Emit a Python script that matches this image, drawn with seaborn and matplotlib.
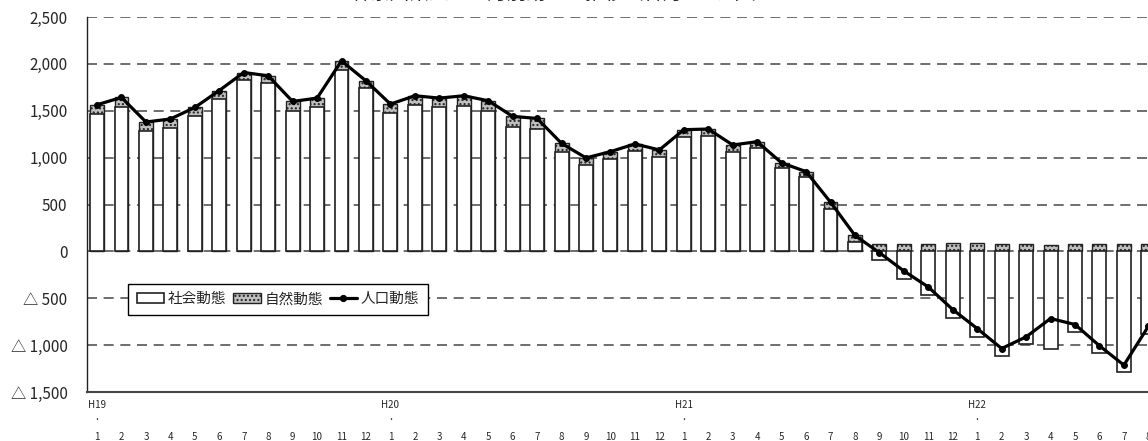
import numpy as np
import pandas as pd
import matplotlib
matplotlib.use("Agg")
import matplotlib.pyplot as plt
import seaborn as sns
from matplotlib.patches import Patch
from matplotlib.lines import Line2D
from matplotlib.transforms import blended_transform_factory

# monthly data, H19/1 .. H22/8
years = ["H19", "H20", "H21", "H22"]
months = list(range(1, 13)) * 3 + list(range(1, 9))

social = [1468, 1543, 1284, 1312, 1440, 1625, 1827, 1791, 1500, 1543, 1936, 1742,
          1479, 1564, 1535, 1553, 1500, 1330, 1305, 1064, 918, 982, 1071, 1011,
          1216, 1234, 1057, 1099, 891, 791, 454, 99, -88, -298, -461, -706,
          -912, -1117, -993, -1043, -858, -1082, -1284, -880]
natural = [96, 99, 96, 100, 95, 91, 81, 82, 99, 92, 96, 77,
           92, 96, 100, 107, 107, 110, 113, 88, 79, 82, 75, 71,
           82, 71, 78, 71, 53, 60, 71, 71, 80, 82, 82, 85,
           85, 82, 80, 64, 80, 80, 75, 80]
total = [1564, 1642, 1380, 1412, 1535, 1716, 1908, 1873, 1599, 1635, 2032, 1819,
         1571, 1660, 1635, 1660, 1607, 1440, 1418, 1152, 997, 1064, 1146, 1082,
         1298, 1305, 1135, 1170, 944, 851, 525, 170, -14, -209, -380, -621,
         -823, -1036, -912, -716, -780, -1007, -1213, -800]

yticks = [-1500, -1000, -500, 0, 500, 1000, 1500, 2000, 2500]
ytick_labels = ["△ 1,500", "△ 1,000", "△ 500", "0", "500", "1,000", "1,500", "2,000", "2,500"]

df = pd.DataFrame({"idx": np.arange(len(months)), "social": social,
                   "natural": natural, "total": total})
# natural part sits on top of positive social bars, otherwise starts at zero
df["nat_top"] = df["social"].clip(lower=0) + df["natural"]

sns.set_theme(style="white")
plt.rcParams["font.family"] = ["Noto Sans CJK JP", "DejaVu Sans"]

fig = plt.figure(figsize=(11.48, 4.41), dpi=100)
ax = fig.add_axes([87 / 1148, 49 / 441, (1175 - 87) / 1148, 375 / 441])

# dashed grid behind the bars
for v in yticks[1:]:
    ax.axhline(v, color="#555555", lw=1.2, ls=(0, (6, 4)), zorder=0)

sns.barplot(data=df, x="idx", y="nat_top", color="#c0c0c0", saturation=1,
            width=0.57, edgecolor="#222222", linewidth=1.0, hatch="....",
            ax=ax, zorder=2)
sns.barplot(data=df, x="idx", y="social", color="white", saturation=1,
            width=0.57, edgecolor="#222222", linewidth=1.2, ax=ax, zorder=3)
sns.lineplot(data=df, x="idx", y="total", color="black", lw=2.3, marker="o",
             markersize=4.2, markeredgecolor="black", ax=ax, zorder=5)

ax.set_ylim(-1500, 2500)
ax.set_xlim(-0.41, 44.09)
ax.set_yticks(yticks)
ax.set_yticklabels(ytick_labels, fontsize=11)
ax.set_xticks(df["idx"])
ax.set_xticklabels([str(m) for m in months], fontsize=7)
ax.tick_params(axis="x", length=0, pad=29)
ax.tick_params(axis="y", length=0, pad=14)
ax.set_xlabel("")
ax.set_ylabel("")

for s in ["top", "right"]:
    ax.spines[s].set_visible(False)
ax.spines["left"].set_color("#222222")
ax.spines["bottom"].set_color("#444444")
ax.spines["left"].set_linewidth(1.0)
ax.spines["bottom"].set_linewidth(1.5)

trans = blended_transform_factory(ax.transData, ax.transAxes)
for i, y in enumerate(years):
    ax.text(i * 12, -0.035, y, transform=trans, ha="center", va="center", fontsize=7)
    ax.text(i * 12, -0.08, ".", transform=trans, ha="center", va="bottom", fontsize=8)

handles = [
    Patch(facecolor="white", edgecolor="#222222", linewidth=1.2),
    Patch(facecolor="#c0c0c0", edgecolor="#222222", hatch="....", linewidth=1.0),
    Line2D([0], [0], color="black", lw=2.3, marker="o", markersize=4.2),
]
fig.legend(handles, ["社会動態", "自然動態", "人口動態"], ncol=3,
           loc="lower left", bbox_to_anchor=(128 / 1148, 126 / 441),
           bbox_transform=fig.transFigure, borderaxespad=0, fontsize=10.5,
           frameon=True, fancybox=False, edgecolor="black", framealpha=1,
           handlelength=1.9, handleheight=0.7, columnspacing=0.45,
           handletextpad=0.25, borderpad=0.6)

fig.text(562 / 1148, 1 - 4 / 441, "神奈川県人口の月別動態の推移（各月1日現在）",
         ha="center", va="bottom", fontsize=14)

fig.savefig("out.png", dpi=100)
